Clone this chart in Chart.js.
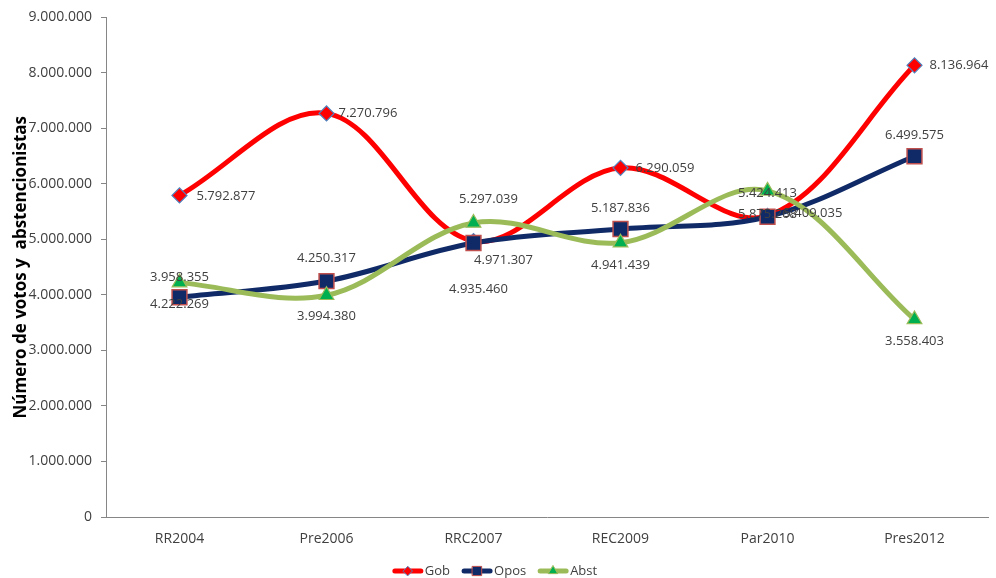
<!DOCTYPE html>
<html>
<head>
<meta charset="utf-8">
<script src="https://cdn.jsdelivr.net/npm/chart.js@4"></script>
<style>
  html, body { margin: 0; padding: 0; background: #ffffff; }
  #wrap { width: 996px; height: 578px; }
</style>
</head>
<body>
<div id="wrap"><canvas id="c" width="996" height="578"></canvas></div>
<script>
const categories = ['RR2004', 'Pre2006', 'RRC2007', 'REC2009', 'Par2010', 'Pres2012'];
const gob  = [5792877, 7270796, 4971307, 6290059, 5424413, 8136964];
const opos = [3958355, 4250317, 4935460, 5187836, 5409035, 6499575];
const abst = [4222269, 3994380, 5297039, 4941439, 5875268, 3558403];
const seriesNames = ['Gob', 'Opos', 'Abst'];
const yTicks = [0, 1000000, 2000000, 3000000, 4000000, 5000000, 6000000, 7000000, 8000000, 9000000];
const yTitle = 'Número de votos y  abstencionistas';

const FONT = "'Open Sans', 'DejaVu Sans', sans-serif";
function fmt(v) { return String(v).replace(/\B(?=(\d{3})+(?!\d))/g, '.'); }

// label placement (style only): [dx, dy, align] per point
const labelPlacement = [
  [[17, 1, 'left'], [12, 0, 'left'], [30, 19, 'center'], [15, 0, 'left'], [0, -23, 'center'], [15, 0, 'left']],
  [[0, -20, 'center'], [0, -23, 'center'], [5, 46, 'center'], [0, -21, 'center'], [16, -3, 'left'], [0, -21, 'center']],
  [[0, 22, 'center'], [0, 21, 'center'], [15, -24, 'center'], [0, 23, 'center'], [0, 23, 'center'], [0, 22, 'center']]
];

const styles = [
  { color: '#FF0000', marker: 'rectRot', fill: '#FF0000', border: '#4F81BD', radius: 7.5, bw: 1.2 },
  { color: '#0F2A66', marker: 'rect', fill: '#0F2A66', border: '#C0504D', radius: 10.5, bw: 1.5 },
  { color: '#9BBB59', marker: 'triangle', fill: '#00B050', border: '#9BBB59', radius: 8.5, bw: 1.2 }
];

const dataLabelsPlugin = {
  id: 'dataLabelsCustom',
  afterDatasetsDraw(chart) {
    const ctx = chart.ctx;
    ctx.save();
    ctx.font = '13px ' + FONT;
    ctx.fillStyle = '#404040';
    ctx.textBaseline = 'middle';
    chart.data.datasets.forEach((ds, di) => {
      const meta = chart.getDatasetMeta(di);
      meta.data.forEach((pt, i) => {
        const p = labelPlacement[di][i];
        ctx.textAlign = p[2];
        ctx.fillText(fmt(ds.data[i]), pt.x + p[0], pt.y + p[1]);
      });
    });
    ctx.restore();
  }
};

const legendPlugin = {
  id: 'legendCustom',
  afterDraw(chart) {
    const ctx = chart.ctx;
    ctx.save();
    ctx.font = '13px ' + FONT;
    const lineLen = 30, gapText = 2, gapItem = 12;
    const widths = seriesNames.map(n => lineLen + gapText + ctx.measureText(n).width);
    const total = widths.reduce((a, b) => a + b, 0) + gapItem * (seriesNames.length - 1);
    let x = chart.width / 2 - total / 2 - 3;
    const y = 571;
    seriesNames.forEach((n, i) => {
      const s = styles[i];
      ctx.strokeStyle = s.color;
      ctx.lineWidth = 5;
      ctx.lineCap = 'round';
      ctx.beginPath();
      ctx.moveTo(x + 2, y);
      ctx.lineTo(x + lineLen - 2, y);
      ctx.stroke();
      ctx.fillStyle = s.fill;
      ctx.strokeStyle = s.border;
      ctx.lineWidth = 1;
      Chart.helpers.drawPoint(ctx, { pointStyle: s.marker, radius: s.radius * 0.62, borderWidth: 1 }, x + lineLen / 2, y);
      ctx.fillStyle = '#404040';
      ctx.textAlign = 'left';
      ctx.textBaseline = 'middle';
      ctx.fillText(n, x + lineLen + gapText, y);
      x += widths[i] + gapItem;
    });
    ctx.restore();
  }
};

const seriesData = [gob, opos, abst];
const datasets = seriesNames.map((name, i) => ({
  label: name,
  data: seriesData[i],
  borderColor: styles[i].color,
  borderWidth: 5,
  tension: 0.35,
  pointStyle: styles[i].marker,
  pointRadius: styles[i].radius,
  pointHoverRadius: styles[i].radius,
  pointBackgroundColor: styles[i].fill,
  pointBorderColor: styles[i].border,
  pointBorderWidth: styles[i].bw,
  order: 3 - i,
  clip: false
}));

new Chart(document.getElementById('c'), {
  type: 'line',
  data: { labels: categories, datasets },
  options: {
    responsive: false,
    animation: false,
    devicePixelRatio: 1,
    layout: { autoPadding: false, padding: { top: 17, right: 8, left: 0, bottom: 26 } },
    plugins: { legend: { display: false }, tooltip: { enabled: false } },
    scales: {
      x: {
        type: 'category',
        offset: true,
        grid: { display: false, drawTicks: false },
        border: { display: true, color: '#868686', width: 1 },
        ticks: { color: '#404040', font: { family: FONT, size: 14 }, padding: 14, maxRotation: 0 },
        afterFit(scale) { scale.height = 35; scale.paddingLeft = 0; scale.paddingRight = 0; }
      },
      y: {
        min: 0, max: 9000000,
        afterBuildTicks(scale) { scale.ticks = yTicks.map(v => ({ value: v })); },
        grid: { drawOnChartArea: false, drawTicks: true, tickLength: 5, color: '#868686' },
        border: { display: true, color: '#868686', width: 1 },
        ticks: { color: '#404040', font: { family: FONT, size: 14 }, padding: 9, callback: v => fmt(v) },
        title: { display: true, text: yTitle, color: '#000000', font: { family: FONT, size: 17, weight: 'bold' }, padding: { top: 11, bottom: 0 } },
        afterFit(scale) { scale.width = 106; }
      }
    }
  },
  plugins: [dataLabelsPlugin, legendPlugin]
});
</script>
</body>
</html>
